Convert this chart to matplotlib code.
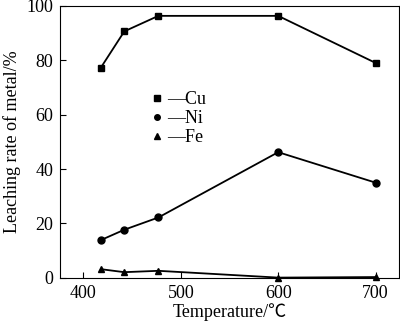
import matplotlib
matplotlib.use("Agg")
import matplotlib.pyplot as plt
from matplotlib.lines import Line2D

plt.rcParams['font.family'] = ['Liberation Serif', 'Noto Sans CJK SC', 'DejaVu Sans']

temp = [418, 442, 477, 600, 700]
cu = [77.3, 90.6, 96.3, 96.3, 79.0]
ni = [13.9, 17.7, 22.2, 46.2, 35.0]
fe = [3.2, 2.1, 2.6, 0.1, 0.3]

fig = plt.figure(figsize=(4.0, 3.22), dpi=100)
ax = fig.add_axes([0.15, 0.137, 0.8475, 0.845])

ax.plot(temp, cu, 'k-s', lw=1.3, ms=5, clip_on=False)
ax.plot(temp, ni, 'k-o', lw=1.3, ms=5, clip_on=False)
ax.plot(temp, fe, 'k-^', lw=1.3, ms=5, clip_on=False)

ax.set_xlim(376, 724)
ax.set_ylim(0, 100)
ax.set_xticks([400, 500, 600, 700])
ax.set_yticks([0, 20, 40, 60, 80, 100])
ax.tick_params(direction='in', labelsize=13, length=4, width=0.8, pad=5)
ax.set_xlabel('Temperature/℃', fontsize=13, labelpad=1)
ax.set_ylabel('Leaching rate of metal/%', fontsize=13)

handles = [Line2D([], [], color='k', marker=m, ls='none', ms=4) for m in 's o ^'.split()]
ax.legend(handles, ['—Cu', '—Ni', '—Fe'], loc='upper left', bbox_to_anchor=(0.225, 0.745),
          frameon=False, fontsize=13, handlelength=0.5, handletextpad=0.3, labelspacing=0.1)

fig.savefig('out.png', dpi=100)
